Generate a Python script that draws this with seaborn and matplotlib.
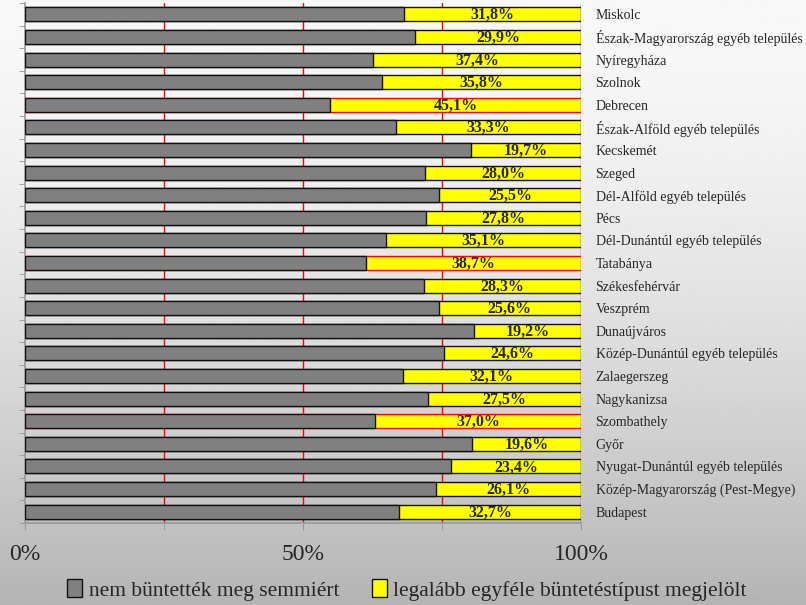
import numpy as np
import pandas as pd
import seaborn as sns
import matplotlib.pyplot as plt
from matplotlib.patches import Patch

# categories (top to bottom) and share with at least one punishment type (%)
places = [
    "Miskolc", "Észak-Magyarország egyéb település", "Nyíregyháza", "Szolnok",
    "Debrecen", "Észak-Alföld egyéb település", "Kecskemét", "Szeged",
    "Dél-Alföld egyéb település", "Pécs", "Dél-Dunántúl egyéb település",
    "Tatabánya", "Székesfehérvár", "Veszprém", "Dunaújváros",
    "Közép-Dunántúl egyéb település", "Zalaegerszeg", "Nagykanizsa",
    "Szombathely", "Győr", "Nyugat-Dunántúl egyéb település",
    "Közép-Magyarország (Pest-Megye)", "Budapest",
]
punished = [31.8, 29.9, 37.4, 35.8, 45.1, 33.3, 19.7, 28.0, 25.5, 27.8, 35.1,
            38.7, 28.3, 25.6, 19.2, 24.6, 32.1, 27.5, 37.0, 19.6, 23.4, 26.1, 32.7]
highlighted = ["Debrecen", "Tatabánya", "Szombathely"]

legend_labels = ["nem büntették meg semmiért",
                 "legalább egyféle büntetéstípust megjelölt"]

df = pd.DataFrame({"place": places, "punished": punished})
df["not_punished"] = 100 - df["punished"]
df["total"] = 100.0

sns.set_style("white")
plt.rcParams["font.family"] = ["Liberation Serif", "DejaVu Serif"]

fig = plt.figure(figsize=(8.06, 6.05), dpi=100)

# slide-like grey gradient background
bg = fig.add_axes([0, 0, 1, 1], zorder=-10)
t = np.linspace(0, 1, 300)[:, None]
shade = (248 - 68 * t ** 1.6) / 255
bg.imshow(np.repeat(shade, 2, axis=1), cmap="gray", vmin=0, vmax=1,
          aspect="auto", extent=[0, 1, 0, 1], origin="upper")
bg.axis("off")

ax = fig.add_axes([25 / 806, 1 - 523 / 605, 556 / 806, 520 / 605])
ax.set_facecolor("none")

for x in [25, 50, 75, 100]:
    ax.axvline(x, color="#ff0000", lw=1, zorder=0)

sns.barplot(data=df, y="place", x="total", order=places, color="#ffff00",
            width=0.62, saturation=1, ax=ax, zorder=2)
n = len(places)
for patch, p in zip(ax.patches[:n], places):
    patch.set_edgecolor("#ff0000" if p in highlighted else "#111111")
    patch.set_linewidth(1.0)

sns.barplot(data=df, y="place", x="not_punished", order=places, color="#808080",
            width=0.62, saturation=1, ax=ax, zorder=3)
for patch in ax.patches[n:]:
    patch.set_edgecolor("#111111")
    patch.set_linewidth(1.0)

# percentage labels centered on the yellow segment
for i, row in df.iterrows():
    ax.text(row["not_punished"] + row["punished"] / 2, i + 0.04,
            f"{row['punished']:.1f}%".replace(".", ","),
            ha="center", va="center", fontsize=11.5, fontweight="bold", zorder=5)

ax.set_xlim(0, 100)
ax.set_ylim(n - 0.5, -0.5)
ax.set_xticks([0, 50, 100])
ax.set_xticklabels(["0%", "50%", "100%"], fontsize=17)
ax.set_xticks([25, 75], minor=True)
ax.set_yticks(range(n))
ax.set_yticklabels(places, fontsize=10)
ax.set_yticks(np.arange(-0.5, n, 1), minor=True)
ax.tick_params(axis="y", which="major", left=False, right=False,
               labelleft=False, labelright=True, pad=7)
ax.tick_params(axis="y", which="minor", left=True, length=4, color="#999999")
ax.tick_params(axis="x", which="both", bottom=True, length=5, color="#999999", pad=10)
ax.set_xlabel("")
ax.set_ylabel("")
for s in ["top", "right"]:
    ax.spines[s].set_visible(False)
for s in ["left", "bottom"]:
    ax.spines[s].set_color("#999999")
    ax.spines[s].set_linewidth(1.2)

handles = [Patch(facecolor="#808080", edgecolor="#111111"),
           Patch(facecolor="#ffff00", edgecolor="#111111")]
fig.legend(handles, legend_labels, loc="center", bbox_to_anchor=(0.505, 1 - 590 / 605),
           ncol=2, frameon=False, fontsize=15.5, handlelength=0.7, handleheight=0.9,
           handletextpad=0.3, columnspacing=1.5)

fig.savefig("out.png", dpi=100)
